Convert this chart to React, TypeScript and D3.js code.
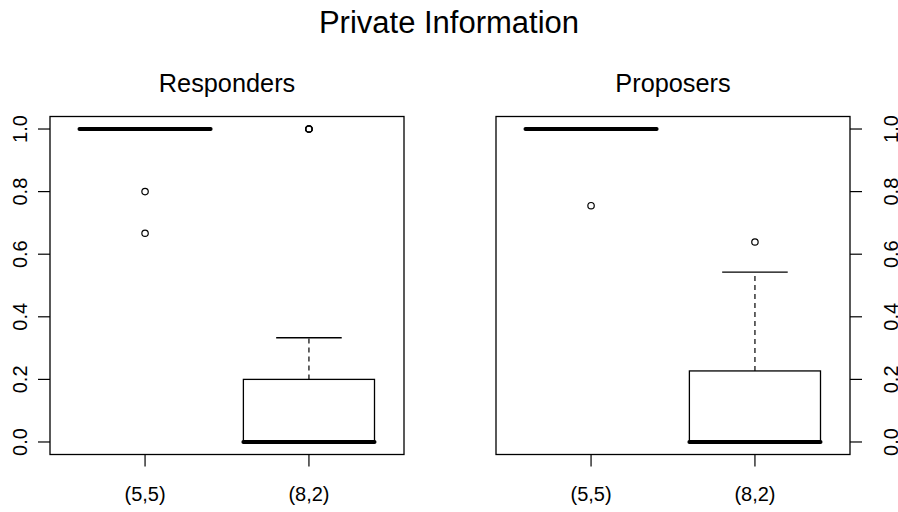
import * as d3 from "d3";

// categories and panel names
const groups = ["(5,5)", "(8,2)"];
const panelTitles = ["Responders", "Proposers"];
const yTicks = [0, 0.2, 0.4, 0.6, 0.8, 1.0];

// Responders box stats, per group
const respLow = [1, 0];
const respQ1 = [1, 0];
const respMedian = [1, 0];
const respQ3 = [1, 0.2];
const respHigh = [1, 0.333];
const respOutliers = [[0.8, 0.667], [1, 1, 1]];

// Proposers box stats, per group
const propLow = [1, 0];
const propQ1 = [1, 0];
const propMedian = [1, 0];
const propQ3 = [1, 0.227];
const propHigh = [1, 0.543];
const propOutliers = [[0.755], [0.639]];

const W = 898;
const H = 512;
const FONT = "'Liberation Sans', Arial, Helvetica, sans-serif";

const panels = [
  { title: panelTitles[0], left: 50, right: 404, axis: "left", low: respLow, q1: respQ1, median: respMedian, q3: respQ3, high: respHigh, outliers: respOutliers },
  { title: panelTitles[1], left: 496, right: 850, axis: "right", low: propLow, q1: propQ1, median: propMedian, q3: propQ3, high: propHigh, outliers: propOutliers },
];

const top = 116.5;
const bottom = 454.5;

function Panel({ p }: { p: (typeof panels)[number] }) {
  // R-style 4% padding on both axes
  const x = d3.scaleLinear().domain([0.42, 2.58]).range([p.left, p.right]);
  const y = d3.scaleLinear().domain([-0.04, 1.04]).range([bottom, top]);
  const halfBox = 0.4;
  const halfCap = 0.2;

  return (
    <g>
      {groups.map((g, i) => {
        const cx = x(i + 1);
        return (
          <g key={g}>
            {/* whiskers */}
            <line x1={cx} x2={cx} y1={y(p.q3[i])} y2={y(p.high[i])} stroke="#000" strokeWidth={1.2} strokeDasharray="5,4" />
            <line x1={cx} x2={cx} y1={y(p.q1[i])} y2={y(p.low[i])} stroke="#000" strokeWidth={1.2} strokeDasharray="5,4" />
            <line x1={x(i + 1 - halfCap)} x2={x(i + 1 + halfCap)} y1={y(p.high[i])} y2={y(p.high[i])} stroke="#000" strokeWidth={1.3} />
            <line x1={x(i + 1 - halfCap)} x2={x(i + 1 + halfCap)} y1={y(p.low[i])} y2={y(p.low[i])} stroke="#000" strokeWidth={1.3} />
            {/* box */}
            <rect
              x={x(i + 1 - halfBox)}
              y={y(p.q3[i])}
              width={x(i + 1 + halfBox) - x(i + 1 - halfBox)}
              height={y(p.q1[i]) - y(p.q3[i])}
              fill="#fff"
              stroke="#000"
              strokeWidth={1.3}
            />
            {/* median */}
            <line x1={x(i + 1 - halfBox)} x2={x(i + 1 + halfBox)} y1={y(p.median[i])} y2={y(p.median[i])} stroke="#000" strokeWidth={4} strokeLinecap="round" />
            {/* outliers */}
            {p.outliers[i].map((v, k) => (
              <circle key={k} cx={cx} cy={y(v)} r={3.2} fill="none" stroke="#000" strokeWidth={1.2} />
            ))}
            {/* x tick + label */}
            <line x1={cx} x2={cx} y1={bottom} y2={bottom + 12} stroke="#000" strokeWidth={1.2} />
            <text x={cx} y={501} textAnchor="middle" fontSize={20} fontFamily={FONT}>
              {g}
            </text>
          </g>
        );
      })}

      {/* y axis */}
      {yTicks.map((t) => {
        const yy = y(t);
        const isLeft = p.axis === "left";
        const x0 = isLeft ? p.left : p.right;
        const x1 = isLeft ? p.left - 12 : p.right + 12;
        const lx = isLeft ? 27 : 898;
        return (
          <g key={t}>
            <line x1={x0} x2={x1} y1={yy} y2={yy} stroke="#000" strokeWidth={1.2} />
            <text transform={`translate(${lx},${yy}) rotate(-90)`} textAnchor="middle" fontSize={20} fontFamily={FONT}>
              {t.toFixed(1)}
            </text>
          </g>
        );
      })}

      {/* frame */}
      <rect x={p.left} y={top} width={p.right - p.left} height={bottom - top} fill="none" stroke="#000" strokeWidth={1.3} />

      <text x={(p.left + p.right) / 2} y={91.5} textAnchor="middle" fontSize={25.3} fontFamily={FONT}>
        {p.title}
      </text>
    </g>
  );
}

export default function App() {
  return (
    <svg width={W} height={H} style={{ position: "absolute", left: 0, top: 0, background: "#fff" }}>
      <rect width={W} height={H} fill="#fff" />
      <text x={449} y={32.5} textAnchor="middle" fontSize={31} fontFamily={FONT}>
        Private Information
      </text>
      {panels.map((p) => (
        <Panel key={p.title} p={p} />
      ))}
    </svg>
  );
}
